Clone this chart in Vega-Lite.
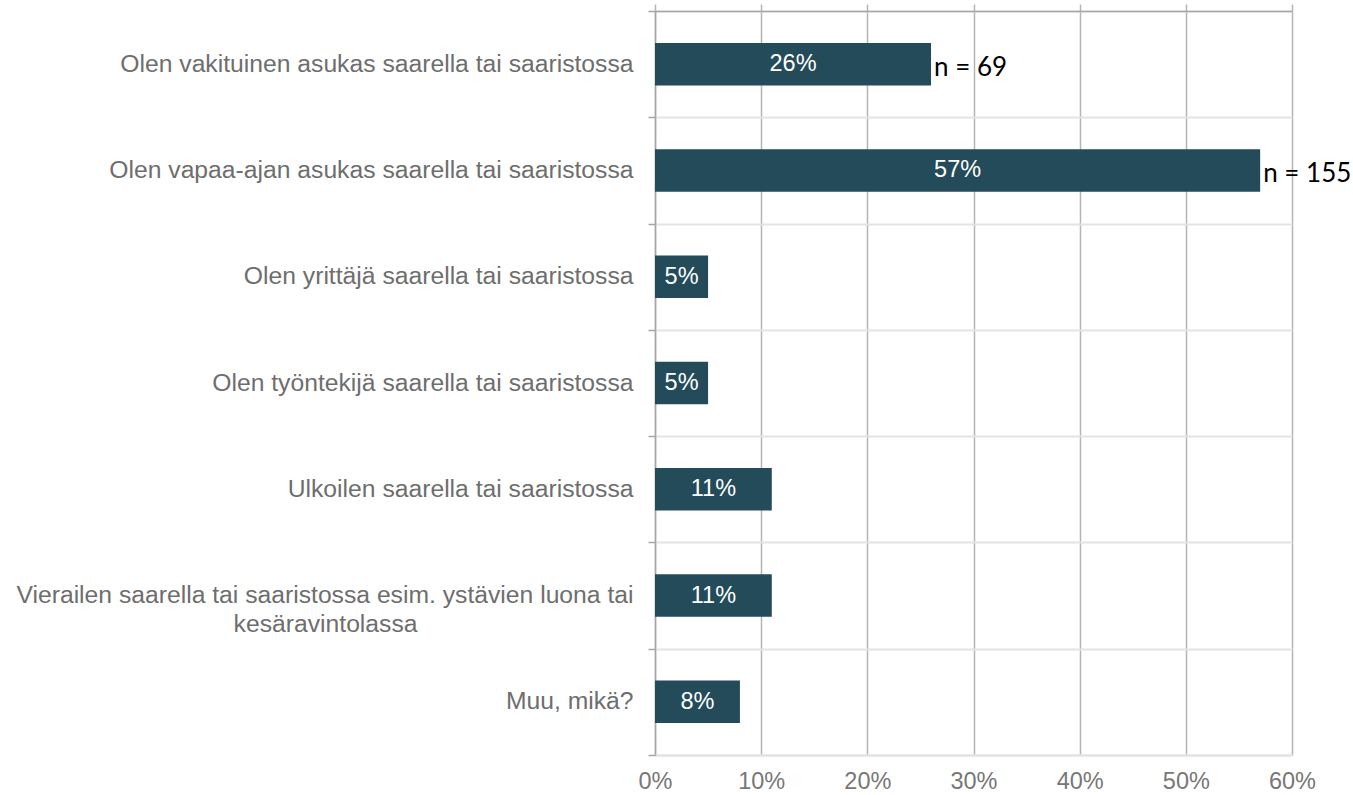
{
  "$schema": "https://vega.github.io/schema/vega-lite/v6.json",
  "width": 637,
  "height": 744,
  "autosize": "none",
  "padding": {"left": 655, "top": 11, "right": 61, "bottom": 40},
  "background": "white",
  "config": {"view": {"stroke": null}},
  "data": {
    "values": [
      {"cat": "Olen vakituinen asukas saarella tai saaristossa", "value": 0.26, "n": "n = 69"},
      {"cat": "Olen vapaa-ajan asukas saarella tai saaristossa", "value": 0.57, "n": "n = 155"},
      {"cat": "Olen yrittäjä saarella tai saaristossa", "value": 0.05, "n": ""},
      {"cat": "Olen työntekijä saarella tai saaristossa", "value": 0.05, "n": ""},
      {"cat": "Ulkoilen saarella tai saaristossa", "value": 0.11, "n": ""},
      {"cat": "Vierailen saarella tai saaristossa esim. ystävien luona tai|kesäravintolassa", "value": 0.11, "n": ""},
      {"cat": "Muu, mikä?", "value": 0.08, "n": ""}
    ]
  },
  "encoding": {
    "y": {
      "field": "cat",
      "type": "nominal",
      "sort": null,
      "scale": {"paddingInner": 0, "paddingOuter": 0},
      "axis": {
        "title": null,
        "tickBand": "extent",
        "grid": true,
        "gridColor": "#e3e3e3",
        "gridWidth": 2,
        "domainColor": "#a6a6a6",
        "domainWidth": 1.5,
        "tickColor": "#a6a6a6",
        "tickWidth": 1.5,
        "tickSize": 7,
        "labelPadding": 15,
        "labelFont": "Liberation Sans",
        "labelFontSize": 24.7,
        "labelColor": "#6e6e6e",
        "labelLimit": 700,
        "labelExpr": "indexof(datum.label, '|') >= 0 ? [split(datum.label, '|')[0], split(datum.label, '|')[1] + '\u2800\u2800\u2800\u2800\u2800\u2800\u2800\u2800\u2800\u2800\u2800\u2800'] : datum.label",
        "labelLineHeight": 29
      }
    }
  },
  "resolve": {"axis": {"x": "independent"}},
  "layer": [
    {
      "mark": {"type": "bar", "color": "#234b5a", "height": {"band": 0.4}},
      "encoding": {
        "x": {
          "field": "value",
          "type": "quantitative",
          "scale": {"domain": [0, 0.6]},
          "axis": {
            "orient": "bottom",
            "title": null,
            "values": [0, 0.1, 0.2, 0.3, 0.4, 0.5, 0.6],
            "format": ".0%",
            "grid": true,
            "gridColor": "#b5b5b5",
            "gridWidth": 1.5,
            "domainColor": "#e3e3e3",
            "domainWidth": 2,
            "ticks": false,
            "labelPadding": 14,
            "labelFont": "Liberation Sans",
            "labelFontSize": 23.5,
            "labelColor": "#777777",
            "labelFlush": false
          }
        }
      }
    },
    {
      "mark": {"type": "text", "color": "white", "font": "Liberation Sans", "fontSize": 23.5, "align": "center", "baseline": "middle"},
      "encoding": {
        "x": {
          "field": "value",
          "type": "quantitative",
          "stack": "zero",
          "bandPosition": 0.5,
          "axis": {
            "orient": "top",
            "title": null,
            "values": [0, 0.1, 0.2, 0.3, 0.4, 0.5, 0.6],
            "labels": false,
            "grid": false,
            "ticks": true,
            "tickSize": 7,
            "tickColor": "#b5b5b5",
            "tickWidth": 1.5,
            "domainColor": "#a6a6a6",
            "domainWidth": 1.5
          }
        },
        "text": {"field": "value", "format": ".0%"}
      }
    },
    {
      "transform": [{"filter": "datum.n != ''"}],
      "mark": {"type": "text", "color": "black", "font": "Lato", "fontSize": 26, "align": "left", "baseline": "middle", "dx": 3, "dy": 4},
      "encoding": {
        "x": {"field": "value", "type": "quantitative", "axis": null},
        "text": {"field": "n"}
      }
    }
  ]
}
